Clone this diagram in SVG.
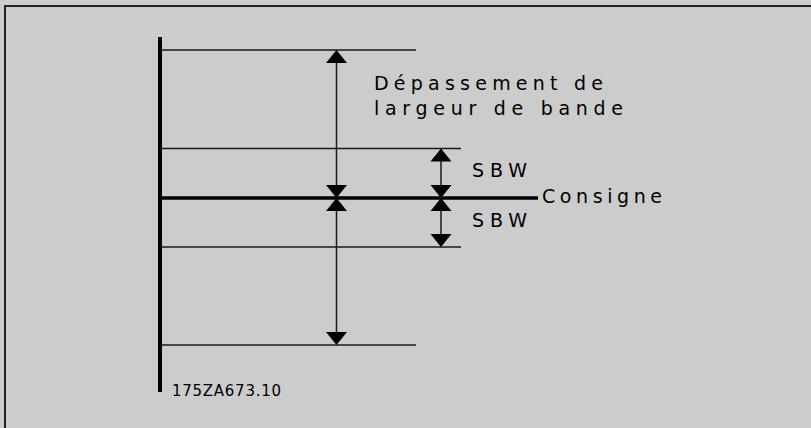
<svg xmlns="http://www.w3.org/2000/svg" width="811" height="428" viewBox="0 0 811 428">
<style>
.t{font-family:"DejaVu Sans","Liberation Sans",sans-serif;fill:#000}
.ln{stroke:#1a1a1a;stroke-width:1.5;fill:none}
.ah{fill:#000}
</style>
<defs>
<path id="up" class="ah" d="M0,0 L10.5,13 L-10.5,13 Z"/>
<path id="dn" class="ah" d="M0,0 L10.5,-13 L-10.5,-13 Z"/>
</defs>
<rect x="0" y="0" width="811" height="428" fill="#cccccc"/>
<path d="M5,428 V6 H811" stroke="#222" stroke-width="2" fill="none"/>
<g id="axis">
<rect x="158" y="37" width="4" height="355" fill="#000"/>
</g>
<g id="levels">
<line class="ln" x1="162" y1="50" x2="416" y2="50"/>
<line class="ln" x1="162" y1="148.5" x2="461" y2="148.5"/>
<line x1="162" y1="198" x2="538" y2="198" stroke="#000" stroke-width="3.5"/>
<line class="ln" x1="162" y1="247" x2="461" y2="247"/>
<line class="ln" x1="162" y1="345" x2="416" y2="345"/>
</g>
<g id="connectors">
<line class="ln" x1="336.5" y1="55" x2="336.5" y2="340"/>
<use href="#up" x="336.5" y="50"/>
<use href="#dn" x="336.5" y="198"/>
<use href="#up" x="336.5" y="198"/>
<use href="#dn" x="336.5" y="345"/>
<line class="ln" x1="441" y1="152" x2="441" y2="243"/>
<use href="#up" x="441" y="148.5"/>
<use href="#dn" x="441" y="198"/>
<use href="#up" x="441" y="198"/>
<use href="#dn" x="441" y="247"/>
</g>
<g id="labels">
<text class="t" x="374" y="90" font-size="19" textLength="229" lengthAdjust="spacing">Dépassement de</text>
<text class="t" x="374" y="115" font-size="19" textLength="249" lengthAdjust="spacing">largeur de bande</text>
<text class="t" x="472" y="177" font-size="19" textLength="55" lengthAdjust="spacing">SBW</text>
<text class="t" x="472" y="227" font-size="19" textLength="55" lengthAdjust="spacing">SBW</text>
<text class="t" x="542" y="203" font-size="19" textLength="120" lengthAdjust="spacing">Consigne</text>
<text class="t" x="172" y="396" font-size="15" textLength="109" lengthAdjust="spacing">175ZA673.10</text>
</g>
</svg>
